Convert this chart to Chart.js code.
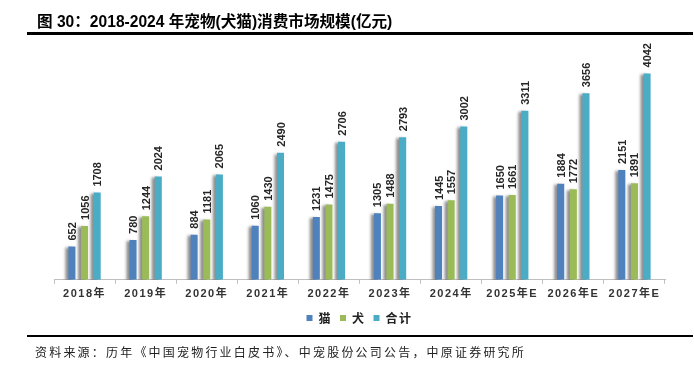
<!DOCTYPE html>
<html>
<head>
<meta charset="utf-8">
<script src="https://cdn.jsdelivr.net/npm/chart.js@4"></script>
<style>
  html, body { margin: 0; padding: 0; background: #fff; }
  #wrap { position: relative; width: 694px; height: 367px; overflow: hidden; }
  #grafico { position: absolute; left: 0; top: 0; }
  .titulo { position: absolute; left: 37px; top: 9px; font: bold 15.6px "Liberation Sans", "Noto Sans CJK SC", sans-serif; color: #000; white-space: nowrap; }
  .linea { position: absolute; left: 27px; width: 666px; background: #000; }
  .fuente { position: absolute; left: 35px; top: 343px; font: 12px "Noto Sans CJK SC", sans-serif; letter-spacing: 2.2px; color: #222; white-space: nowrap; }
</style>
</head>
<body>
<div id="wrap">
  <canvas id="grafico" width="694" height="367"></canvas>
  <div class="titulo">图 30：2018-2024 年宠物(犬猫)消费市场规模(亿元)</div>
  <div class="linea" style="top:32px;height:2.5px"></div>
  <div class="linea" style="top:335px;height:2px"></div>
  <div class="fuente">资料来源：历年《中国宠物行业白皮书》、中宠股份公司公告，中原证券研究所</div>
</div>
<script>
// Datos del gráfico
const anios = ['2018年', '2019年', '2020年', '2021年', '2022年', '2023年', '2024年', '2025年E', '2026年E', '2027年E'];
const gatos = [652, 780, 884, 1060, 1231, 1305, 1445, 1650, 1884, 2151];
const perros = [1056, 1244, 1181, 1430, 1475, 1488, 1557, 1661, 1772, 1891];
const total = [1708, 2024, 2065, 2490, 2706, 2793, 3002, 3311, 3656, 4042];

// Espaciado de letras para las etiquetas del eje
const espaciado = {
    id: 'espaciado',
    beforeLayout(chart) { chart.ctx.letterSpacing = '1.5px'; },
    beforeDraw(chart) { chart.ctx.letterSpacing = '1.5px'; }
};

// Sombra gris a la izquierda de cada barra
const sombra = {
    id: 'sombra',
    beforeDatasetDraw(chart) {
        const ctx = chart.ctx;
        ctx.save();
        ctx.shadowColor = 'rgba(0,0,0,0.45)';
        ctx.shadowOffsetX = -3;
        ctx.shadowOffsetY = 1;
        ctx.shadowBlur = 3;
    },
    afterDatasetDraw(chart) {
        chart.ctx.restore();
    }
};

// Etiquetas verticales encima de cada barra
const etiquetas = {
    id: 'etiquetas',
    afterDatasetsDraw(chart) {
        const ctx = chart.ctx;
        ctx.save();
        ctx.letterSpacing = '0px';
        ctx.font = 'bold 11px "Liberation Sans", Arial, sans-serif';
        ctx.fillStyle = '#262626';
        ctx.textAlign = 'left';
        ctx.textBaseline = 'middle';
        chart.data.datasets.forEach((ds, i) => {
            chart.getDatasetMeta(i).data.forEach((bar, j) => {
                ctx.save();
                ctx.translate(bar.x + 1, bar.y - 6);
                ctx.rotate(-Math.PI / 2);
                ctx.fillText(String(ds.data[j]), 0, 0);
                ctx.restore();
            });
        });
        ctx.restore();
    }
};

const ctx = document.getElementById('grafico').getContext('2d');
const chart = new Chart(ctx, {
    type: 'bar',
    data: {
        labels: anios,
        datasets: [
            { label: '猫', data: gatos, backgroundColor: '#4F81BD' },
            { label: '犬', data: perros, backgroundColor: '#9BBB59' },
            { label: '合计', data: total, backgroundColor: '#4BACC6' }
        ]
    },
    options: {
        responsive: false,
        animation: false,
        barPercentage: 0.56,
        categoryPercentage: 0.62,
        layout: { padding: { top: 45, left: 54, right: 29, bottom: 33 } },
        plugins: {
            legend: {
                position: 'bottom',
                labels: {
                    boxWidth: 6,
                    boxHeight: 6,
                    padding: 8,
                    color: '#222',
                    font: { family: '"Noto Sans CJK SC", sans-serif', size: 12, weight: 'bold' }
                }
            },
            tooltip: { enabled: false }
        },
        scales: {
            x: {
                grid: { display: true, drawOnChartArea: false, drawTicks: true, tickLength: 4, offset: true, color: '#bfbfbf' },
                border: { color: '#bfbfbf' },
                ticks: {
                    padding: 4,
                    color: '#333',
                    font: { family: '"Liberation Sans", "Noto Sans CJK SC", sans-serif', size: 11, weight: 'bold' }
                },
                afterFit(s) { s.height -= 1; }
            },
            y: { display: false, min: 0, max: 4600 }
        }
    },
    plugins: [espaciado, sombra, etiquetas]
});
</script>
</body>
</html>
